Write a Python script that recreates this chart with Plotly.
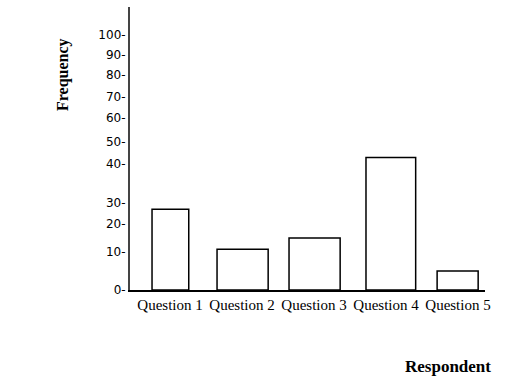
import numpy as np
import plotly.graph_objects as go

# Data
categories = ["Question 1", "Question 2", "Question 3", "Question 4", "Question 5"]
frequency = [27, 11, 15, 43, 5]
tick_values = [0, 10, 20, 30, 40, 50, 60, 70, 80, 90, 100]
tick_labels = [f"{v}-" for v in tick_values]

# The reference's y axis is drawn with uneven spacing between its ticks;
# this is the axis scale (display units for each tick value).
axis_scale = [0, 38, 66, 87, 126, 148, 172, 193, 215, 235, 255]

def to_axis(v):
    return np.interp(v, tick_values, axis_scale)

bar_widths = [0.51, 0.71, 0.71, 0.69, 0.57]
bar_offsets = [-0.25, -0.347, -0.347, -0.278, -0.29]

fig = go.Figure()
fig.add_trace(go.Bar(
    x=categories,
    y=to_axis(frequency),
    base=0,
    width=bar_widths,
    offset=bar_offsets,
    marker=dict(color="white", line=dict(color="black", width=1.5)),
    customdata=frequency,
    hovertemplate="%{x}: %{customdata}<extra></extra>",
))

L, R, T, B = 130, 41, 7, 100
W, H = 526, 390
pw = W - L - R
ph = H - T - B

def px_x(x):
    return (x - L) / pw

def px_y(y):
    return (H - B - y) / ph

fig.update_layout(
    width=W, height=H,
    margin=dict(l=L, r=R, t=T, b=B),
    plot_bgcolor="white", paper_bgcolor="white",
    showlegend=False,
    xaxis=dict(
        type="category",
        range=[-0.556, 4.375],
        showline=True, linecolor="black", linewidth=1.5,
        showgrid=False, zeroline=False, ticks="",
        tickfont=dict(family="Liberation Serif", size=15, color="black"),
    ),
    yaxis=dict(
        range=[0, 283],
        tickmode="array",
        tickvals=[to_axis(v) for v in tick_values],
        ticktext=tick_labels,
        showline=True, linecolor="#444444", linewidth=2,
        showgrid=False, zeroline=False, ticks="",
        tickfont=dict(family="DejaVu Sans", size=12, color="black"),
    ),
    annotations=[
        dict(text="<b>Frequency</b>", x=px_x(63), y=px_y(75), xref="paper", yref="paper",
             xanchor="center", yanchor="middle",
             showarrow=False, textangle=-90,
             font=dict(family="Liberation Serif", size=16, color="black")),
        dict(text="<b>Respondent</b>", x=px_x(448), y=px_y(366), xref="paper", yref="paper",
             xanchor="center", yanchor="middle",
             showarrow=False,
             font=dict(family="Liberation Serif", size=17, color="black")),
    ],
)

fig.write_html("out.html")
